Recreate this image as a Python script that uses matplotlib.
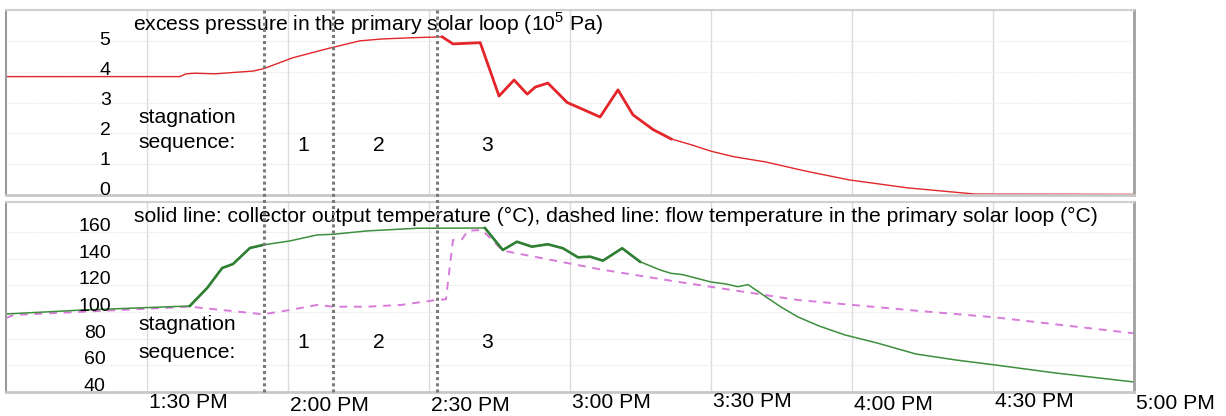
import numpy as np
import matplotlib
matplotlib.use("Agg")
import matplotlib.pyplot as plt
from matplotlib.lines import Line2D
from matplotlib.transforms import blended_transform_factory

plt.rcParams['font.family'] = ['Liberation Sans', 'DejaVu Sans']
plt.rcParams['mathtext.fontset'] = 'custom'
plt.rcParams['mathtext.rm'] = 'Liberation Sans'

# time axis: minutes after 1:00 PM
p_time = [0, 37.0, 38.3, 40.2, 44.5, 52.6, 54.9, 61, 68.5, 75.3, 80, 86.2, 92.8,
          95.1, 100.9, 104.9, 108.1, 110.9, 112.6, 115.3, 119.4, 122.1, 126.4,
          130.2, 133.4, 137.7, 141.5, 146, 150.0, 154.9, 161.7, 170.0, 179.4,
          191.9, 206.2, 240]
p_value = [3.84, 3.84, 3.93, 3.95, 3.93, 4.02, 4.1, 4.45, 4.75, 5.0, 5.06, 5.1, 5.13,
           4.9, 4.94, 3.21, 3.73, 3.27, 3.5, 3.63, 3.0, 2.82, 2.53,
           3.41, 2.6, 2.12, 1.82, 1.62, 1.42, 1.24, 1.07, 0.78, 0.49,
           0.23, 0.03, 0.02]

c_time = [0, 16.4, 39.1, 42.8, 46.0, 48.3, 51.9, 54.7, 60.4, 66.2, 69.6, 76.8, 87.4,
          101.9, 105.7, 108.7, 111.9, 115.3, 118.5, 121.7, 124.3, 127.0, 131.1,
          134.9, 139.2, 141.5, 144.0, 150.0, 153.2, 155.7, 157.9, 161.7, 165,
          168.5, 173, 178.5, 185.3, 193.6, 202.1, 210.4, 223.2, 240]
c_temp = [98.5, 101.5, 104.5, 118, 133, 136, 148, 150.3, 153.3, 157.8, 158.3, 160.8, 162.8,
          163, 146.5, 152.7, 149, 150.8, 147.8, 141, 141.5, 138.5, 147.8,
          137.7, 131.5, 129, 128, 122.5, 121, 119, 120.5, 111.3, 103.5,
          96.3, 89.5, 82.8, 76.8, 68.5, 64, 60.3, 54.3, 47.5]

f_time = [0, 1.7, 16.4, 39.1, 54.7, 60.4, 66.2, 69.6, 76.8, 84.1, 91.5, 93.6, 95.1,
          97.0, 98.3, 101.3, 105.7, 126.4, 143.2, 168.5, 193.6, 210.4, 240]
f_temp = [95.5, 97.8, 100.2, 104, 98.3, 101.5, 105.3, 104, 104, 105.3, 109, 109.5, 154,
          154.5, 161, 161.5, 146, 132, 122.5, 109, 101, 96, 84]

stage_times = [54.9, 69.6, 91.7]
stage_names = ['1', '2', '3']
tick_times = [30, 60, 90, 120, 150, 180, 210, 240]
tick_labels = ['1:30 PM', '2:00 PM', '2:30 PM', '3:00 PM', '3:30 PM',
               '4:00 PM', '4:30 PM', '5:00 PM']
p_ticks = [0, 1, 2, 3, 4, 5]
t_ticks = [40, 60, 80, 100, 120, 140, 160]

W, H = 1226, 416
fig = plt.figure(figsize=(W / 100, H / 100), dpi=100)
ax1 = fig.add_axes([6 / W, 1 - 195 / H, 1128 / W, 185 / H])
ax2 = fig.add_axes([6 / W, 1 - 392 / H, 1128 / W, 190 / H])

red = '#e3262a'
green = '#3d8f3d'
pink = '#d77ad9'
fs = 15.2
fs_num = 14

for ax in (ax1, ax2):
    ax.set_xlim(0, 240)
    ax.set_xticks(tick_times)
    ax.tick_params(length=0, labelbottom=False, labelleft=False)
    ax.grid(axis='x', color='#dcdcdc', lw=1.0)
    ax.grid(axis='y', color='#e6e6e6', lw=0.8, ls=(0, (1, 1)))
    ax.spines['top'].set_color('#d0d0d0')
    ax.spines['top'].set_linewidth(1.5)
    ax.spines['left'].set_color('#9a9a9a')
    ax.spines['left'].set_linewidth(1.5)
    ax.spines['right'].set_color('#a0a0a0')
    ax.spines['right'].set_linewidth(2)
    ax.spines['bottom'].set_color('#c8c8c8')
    ax.spines['bottom'].set_linewidth(2)

# pressure panel
ax1.set_ylim(0, 6)
ax1.set_yticks(p_ticks)
pt = np.array(p_time)
pv = np.array(p_value)
ax1.plot(pt, pv, color=red, lw=1.0)
thick = (pt >= 92) & (pt <= 142)
ax1.plot(pt[thick], pv[thick], color=red, lw=2.0, solid_joinstyle='round')
for v in p_ticks:
    ax1.text(21.1, v * 0.97 + 0.15, str(v), ha='center', va='center', fontsize=fs_num)
ax1.text(27.0, 5.55, 'excess pressure in the primary solar loop (10$^5$ Pa)',
         ha='left', va='center', fontsize=fs)
ax1.text(28.1, 2.5, 'stagnation', ha='left', va='center', fontsize=fs)
ax1.text(28.1, 1.69, 'sequence:', ha='left', va='center', fontsize=fs)
for x, s in zip([63.2, 79.4, 102.3], stage_names):
    ax1.text(x, 1.59, s, ha='center', va='center', fontsize=fs)

# temperature panel
ax2.set_ylim(40, 182.5)
ax2.set_yticks(t_ticks)
ct = np.array(c_time)
cv = np.array(c_temp)
ax2.plot(f_time, f_temp, color=pink, lw=1.4, ls=(0, (4, 3.5)))
ax2.plot(ct, cv, color=green, lw=1.1)
for a, b in [(38, 55), (100, 136)]:
    m = (ct >= a) & (ct <= b)
    ax2.plot(ct[m], cv[m], color='#2f7f33', lw=1.9, solid_joinstyle='round')
for v in t_ticks:
    ax2.text(18.9, v + 4, str(v), ha='center', va='center', fontsize=fs_num)
ax2.text(27.2, 171.3, 'solid line: collector output temperature (°C), dashed line: '
         'flow temperature in the primary solar loop (°C)',
         ha='left', va='center', fontsize=fs)
ax2.text(28.1, 90.3, 'stagnation', ha='left', va='center', fontsize=fs)
ax2.text(28.1, 70, 'sequence:', ha='left', va='center', fontsize=fs)
for x, s in zip([63.2, 79.4, 102.3], stage_names):
    ax2.text(x, 76.8, s, ha='center', va='center', fontsize=fs)

# stagnation phase boundaries across both panels
tr = blended_transform_factory(ax1.transData, fig.transFigure)
for x in stage_times:
    fig.add_artist(Line2D([x, x], [1 - 10 / H, 1 - 392 / H], transform=tr,
                          color='#7a7a7a', lw=2.2, ls=(0, (1, 1))))

# staggered time labels, shifted right of their gridlines as in the source
label_base = [408, 411, 411, 408, 407, 410, 407, 409]
for t, s, yp in zip(tick_times, tick_labels, label_base):
    fig.text(t + 8.9, 1 - yp / H, s, transform=tr, ha='center', va='baseline',
             fontsize=fs)

fig.savefig('out.png', dpi=100)
